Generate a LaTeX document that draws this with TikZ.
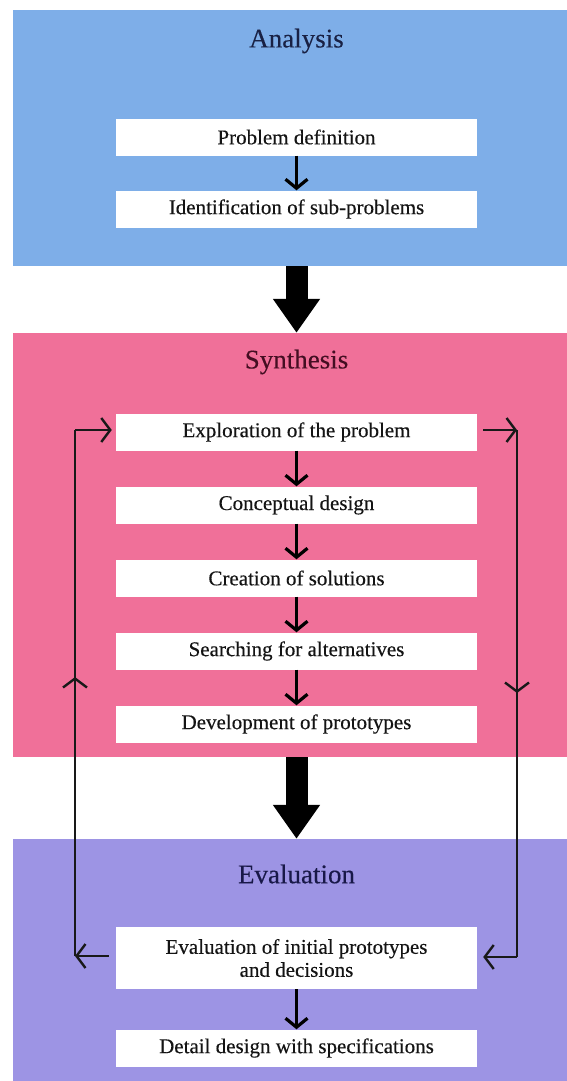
\documentclass[tikz,border=0pt]{standalone}
\usepackage{fontspec}
\setmainfont{Liberation Serif}[FakeBold=0.3]
\usetikzlibrary{arrows.meta}
\definecolor{anblue}{RGB}{126,174,232}
\definecolor{synpink}{RGB}{240,112,153}
\definecolor{evpurple}{RGB}{157,148,228}
\definecolor{antext}{RGB}{25,33,68}
\definecolor{syntext}{RGB}{68,14,34}
\definecolor{evtext}{RGB}{24,24,72}

\begin{document}
\begin{tikzpicture}[x=1pt, y=-1pt,
  panel/.style={rectangle, inner sep=0pt, minimum width=554pt},
  heading/.style={font=\fontsize{27}{30}\selectfont},
  stage/.style={rectangle, fill=white, inner sep=0pt, minimum width=361pt,
    minimum height=37pt, align=center, text=black!92,
    font=\fontsize{21}{23}\selectfont},
  stagearrow/.style={line width=3.2pt, -{Straight Barb[length=9pt,width=22pt]}},
  bigarrow/.style={line width=22pt, -{Triangle[length=34pt,width=45pt]}},
  loopline/.style={line width=2.4pt, black!90},
  looptip/.style={loopline, -{Straight Barb[length=9pt,width=24pt]}}]
\useasboundingbox (0,0) rectangle (567,1081);
\node[panel, fill=anblue,   minimum height=256pt] (analysis)   at (290,138)   {};
\node[panel, fill=synpink,  minimum height=424pt] (synthesis)  at (290,545)   {};
\node[panel, fill=evpurple, minimum height=243pt] (evaluation) at (290,960.5) {};
\node[heading, text=antext]  (analysis-t)   at (296.5,41)  {Analysis};
\node[heading, text=syntext] (synthesis-t)  at (296.5,362) {Synthesis};
\node[heading, text=evtext]  (evaluation-t) at (296.5,874) {Evaluation};
\node[stage] (prob)     at (296.5,137)  {Problem definition};
\node[stage] (ident)    at (296.5,209)  {Identification of sub-problems};
\node[stage] (explo)    at (296.5,432)  {Exploration of the problem};
\node[stage] (concept)  at (296.5,505)  {Conceptual design};
\node[stage] (creation) at (296.5,578)  {Creation of solutions};
\node[stage] (search)   at (296.5,651)  {Searching for alternatives};
\node[stage] (develop)  at (296.5,724)  {Development of prototypes};
\node[stage, minimum height=62pt] (evalbox) at (296.5,958)
  {Evaluation of initial prototypes\\and decisions};
\node[stage] (detail)   at (296.5,1048) {Detail design with specifications};
\coordinate (tl) at (75,430);
\coordinate (lm) at (75,677);
\coordinate (bl) at (75,956);
\coordinate (tr) at (517,430);
\coordinate (rm) at (517,693);
\coordinate (br) at (517,957);
\draw[stagearrow] (prob) -- (ident);
\draw[stagearrow] (explo) -- (concept);
\draw[stagearrow] (concept) -- (creation);
\draw[stagearrow] (creation) -- (search);
\draw[stagearrow] (search) -- (develop);
\draw[stagearrow] (evalbox) -- (detail);
\draw[bigarrow] (ident |- analysis.south) -- (ident |- synthesis.north);
\draw[bigarrow] (develop |- synthesis.south) -- (develop |- evaluation.north);
\draw[looptip] ([xshift=-7pt]evalbox.west |- bl) -- (bl);
\draw[loopline] (bl) -- (tl);
\draw[looptip] (bl) -- (lm);
\draw[looptip] (tl) -- ([xshift=-4pt]explo.west |- tl);
\draw[looptip] ([xshift=6pt]explo.east |- tr) -- (tr);
\draw[loopline] (tr) -- (br);
\draw[looptip] (tr) -- (rm);
\draw[looptip] (br) -- ([xshift=6pt]evalbox.east |- br);
\end{tikzpicture}
\end{document}
